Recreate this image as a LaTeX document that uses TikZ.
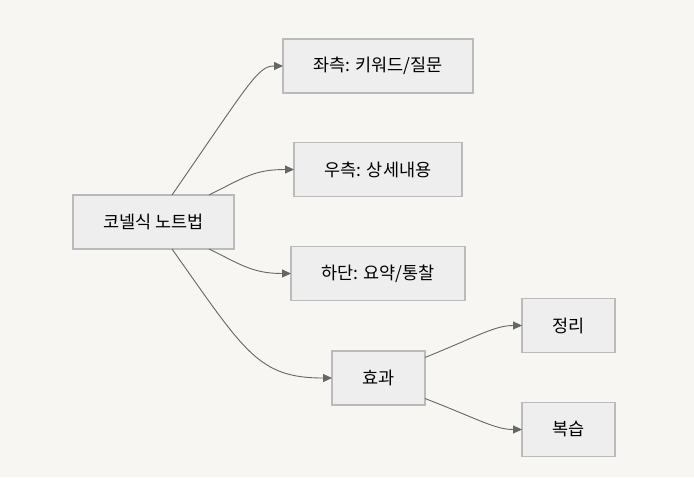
\documentclass[tikz,border=0pt]{standalone}
\usepackage{fontspec}
\setmainfont{Noto Sans CJK KR}
\usetikzlibrary{arrows.meta}
\definecolor{bgc}{HTML}{F7F6F3}
\definecolor{boxfill}{HTML}{EEEEEE}
\definecolor{boxline}{HTML}{BBBBBB}
\definecolor{edgec}{HTML}{666666}
\tikzset{
  box/.style={draw=boxline, fill=boxfill, line width=1.3pt, inner sep=0pt, outer sep=0pt,
    minimum height=54pt, font=\fontsize{17.5}{20}\selectfont, text=black},
  link/.style={draw=edgec, line width=0.9pt, -{Triangle[length=9pt,width=8pt]}}
}
\begin{document}
\begin{tikzpicture}[x=1pt,y=-1pt]
\fill[bgc] (0,0) rectangle (694,477);
\useasboundingbox (0,0) rectangle (694,477);
\node[box, minimum width=161pt] (m) at (153.5,222) {코넬식 노트법};
\node[box, minimum width=190pt] (l) at (378,66) {좌측: 키워드/질문};
\node[box, minimum width=168pt] (r) at (378,169.5) {우측: 상세내용};
\node[box, minimum width=174pt] (b) at (378,273.5) {하단: 요약/통찰};
\node[box, minimum width=93pt] (e) at (378.5,378) {효과};
\node[box, minimum width=93pt] (s) at (568.5,325.5) {정리};
\node[box, minimum width=93pt] (v) at (568.5,429.5) {복습};
\draw[link] ([xshift=18.5pt]m.north) .. controls (250,82) and (258,66) .. (l.west);
\draw[link] ([xshift=55.5pt]m.north) .. controls (245,177) and (255,169.5) .. (r.west);
\draw[link] ([xshift=55.5pt]m.south) .. controls (240,264) and (252,273.5) .. (b.west);
\draw[link] ([xshift=18.5pt]m.south) .. controls (245,352) and (258,378) .. (e.west);
\draw[link] ([yshift=20.5pt]e.east) .. controls (478,336) and (495,325.5) .. (s.west);
\draw[link] ([yshift=-20.5pt]e.east) .. controls (478,419) and (495,429.5) .. (v.west);
\end{tikzpicture}
\end{document}
